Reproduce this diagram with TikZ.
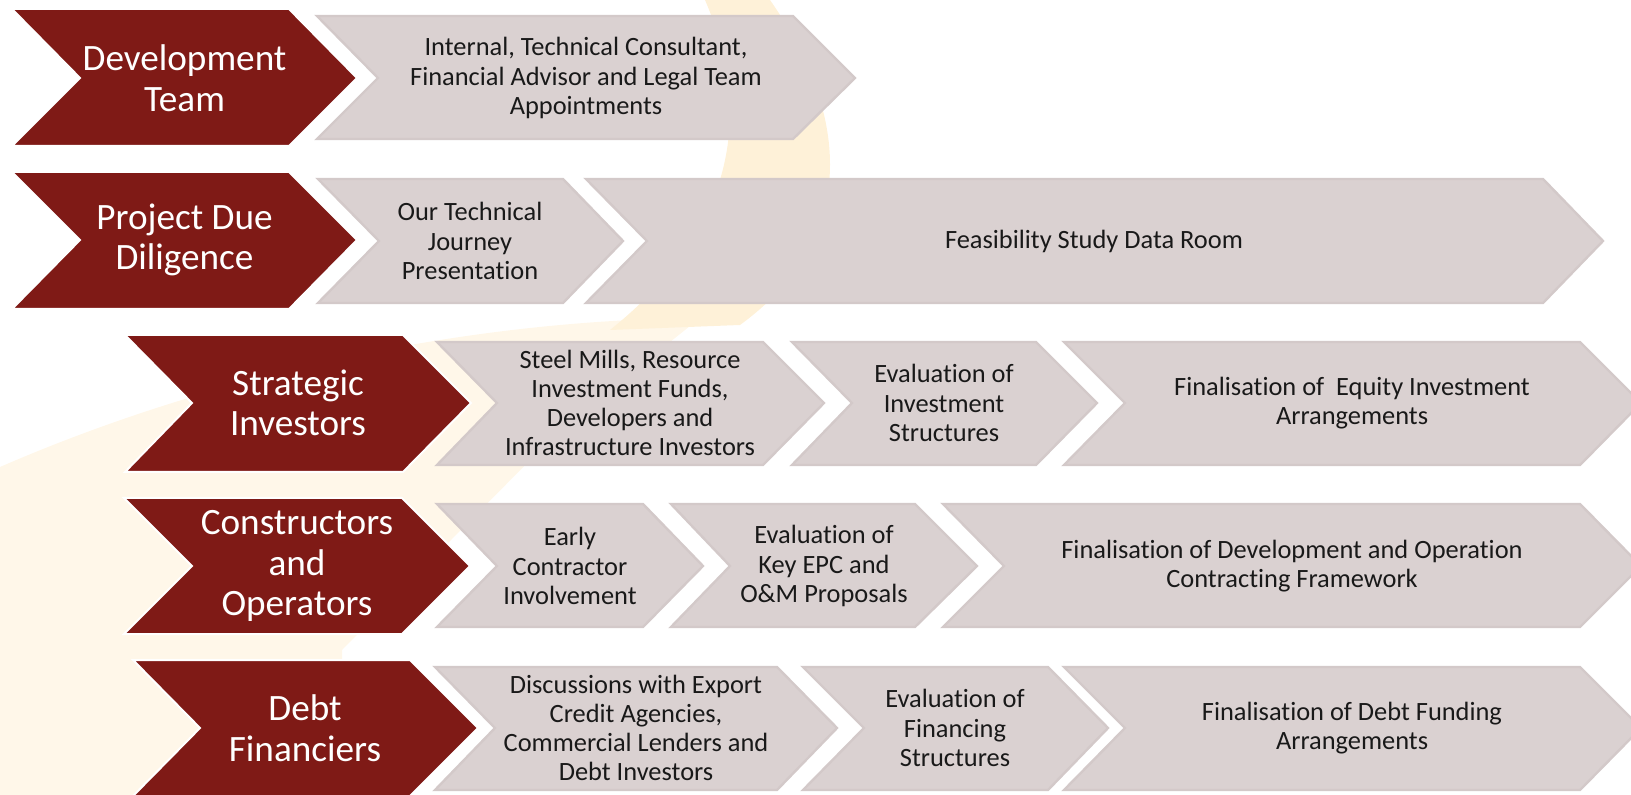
\documentclass[tikz,border=0pt]{standalone}
\usepackage{fontspec}
\setmainfont[Ligatures=NoCommon]{Carlito}
\usetikzlibrary{positioning}

\definecolor{chevred}{RGB}{127,26,22}
\definecolor{chevgray}{RGB}{218,209,209}
\definecolor{chevedge}{RGB}{211,201,201}
\definecolor{markcream}{RGB}{255,247,233}
\definecolor{markorange}{RGB}{254,241,216}

\tikzset{
	redchev/.style={fill=chevred,draw=white,line width=1pt},
	graychev/.style={fill=chevgray,draw=chevedge,line width=1.2pt},
	redtext/.style={text=white,align=center,font=\fontsize{18.6}{20.3}\selectfont},
	graytext/.style={text=black!90,align=center,font=\fontsize{13.2}{14.6}\selectfont}
}

\begin{document}
\begin{tikzpicture}[x=0.5pt,y=-0.5pt]
		\useasboundingbox (0,0) rectangle (1631,795);
		\clip (0,0) rectangle (1631,795);
		
		% faint logo in the background
		\fill[markcream] (0,467) .. controls (200,380) and (450,320) .. (700,318) -- (560,430) -- (342,650) -- (342,795) -- (0,795) -- cycle;
		\fill[markorange] (705,0) -- (770,0) .. controls (840,100) and (870,230) .. (740,325) -- (610,330) .. controls (710,250) and (765,140) .. (705,0) -- cycle;
		
		% row 1
		\draw[redchev] (12,9) -- (289,9) -- (357,78) -- (289,146) -- (12,146) -- (80,78) -- cycle;
		\draw[graychev] (317,16) -- (793,16) -- (855,78) -- (793,139) -- (317,139) -- (378,78) -- cycle;
		\node[redtext] (dev) at (184.5,78) {Development\\Team};
		\node[graytext] (devA) at (586,78) {Internal, Technical Consultant,\\Financial Advisor and Legal Team\\Appointments};
		
		% row 2
		\draw[redchev] (12,172) -- (289,172) -- (357,240) -- (289,309) -- (12,309) -- (80,240) -- cycle;
		\draw[graychev] (318,179) -- (563,179) -- (623,241) -- (563,303) -- (318,303) -- (379,241) -- cycle;
		\draw[graychev] (586,179) -- (1543,179) -- (1603,241) -- (1543,303) -- (586,303) -- (647,241) -- cycle;
		\node[redtext] (due) at (184.5,240) {Project Due\\Diligence};
		\node[graytext] (dueA) at (470,241) {Our Technical\\Journey\\Presentation};
		\node[graytext] (dueB) at (1094,241) {Feasibility Study Data Room};
		
		% row 3
		\draw[redchev] (125,335) -- (403,335) -- (471,403) -- (403,472) -- (125,472) -- (192,403) -- cycle;
		\draw[graychev] (437,342) -- (763,342) -- (824,403) -- (763,465) -- (437,465) -- (497,403) -- cycle;
		\draw[graychev] (792,342) -- (1036,342) -- (1097,403) -- (1036,465) -- (792,465) -- (852,403) -- cycle;
		\draw[graychev] (1064,342) -- (1580,342) -- (1641,403) -- (1580,465) -- (1064,465) -- (1125,403) -- cycle;
		\node[redtext] (inv) at (298,403) {Strategic\\Investors};
		\node[graytext] (invA) at (630,403) {Steel Mills, Resource\\Investment Funds,\\Developers and\\Infrastructure Investors};
		\node[graytext] (invB) at (944,403) {Evaluation of\\Investment\\Structures};
		\node[graytext] (invC) at (1352,403) {Finalisation of~ Equity Investment\\Arrangements};
		
		% row 4
		\draw[redchev] (124,498) -- (402,498) -- (470,566) -- (402,634) -- (124,634) -- (192,566) -- cycle;
		\draw[graychev] (437,504) -- (643,504) -- (703,566) -- (643,627) -- (437,627) -- (497,566) -- cycle;
		\draw[graychev] (671,504) -- (915,504) -- (977,566) -- (915,627) -- (671,627) -- (730,566) -- cycle;
		\draw[graychev] (943,504) -- (1580,504) -- (1641,566) -- (1580,627) -- (943,627) -- (1004,566) -- cycle;
		\node[redtext] (con) at (297,566) {Constructors\\and\\Operators};
		\node[graytext] (conA) at (570,566) {Early\\Contractor\\Involvement};
		\node[graytext] (conB) at (824,566) {Evaluation of\\Key EPC and\\O\&M Proposals};
		\node[graytext] (conC) at (1292,566) {Finalisation of Development and Operation\\Contracting Framework};
		
		% row 5
		\draw[redchev] (133,660) -- (410,660) -- (478,728) -- (410,796) -- (133,796) -- (200,728) -- cycle;
		\draw[graychev] (435,667) -- (777,667) -- (837,728) -- (777,790) -- (435,790) -- (495,728) -- cycle;
		\draw[graychev] (803,667) -- (1048,667) -- (1108,728) -- (1048,790) -- (803,790) -- (864,728) -- cycle;
		\draw[graychev] (1064,667) -- (1580,667) -- (1641,728) -- (1580,790) -- (1064,790) -- (1125,728) -- cycle;
		\node[redtext] (debt) at (305,728) {Debt\\Financiers};
		\node[graytext] (debtA) at (636,728) {Discussions with Export\\Credit Agencies,\\Commercial Lenders and\\Debt Investors};
		\node[graytext] (debtB) at (955,728) {Evaluation of\\Financing\\Structures};
		\node[graytext] (debtC) at (1352,728) {Finalisation of Debt Funding\\Arrangements};
	\end{tikzpicture}
\end{document}
